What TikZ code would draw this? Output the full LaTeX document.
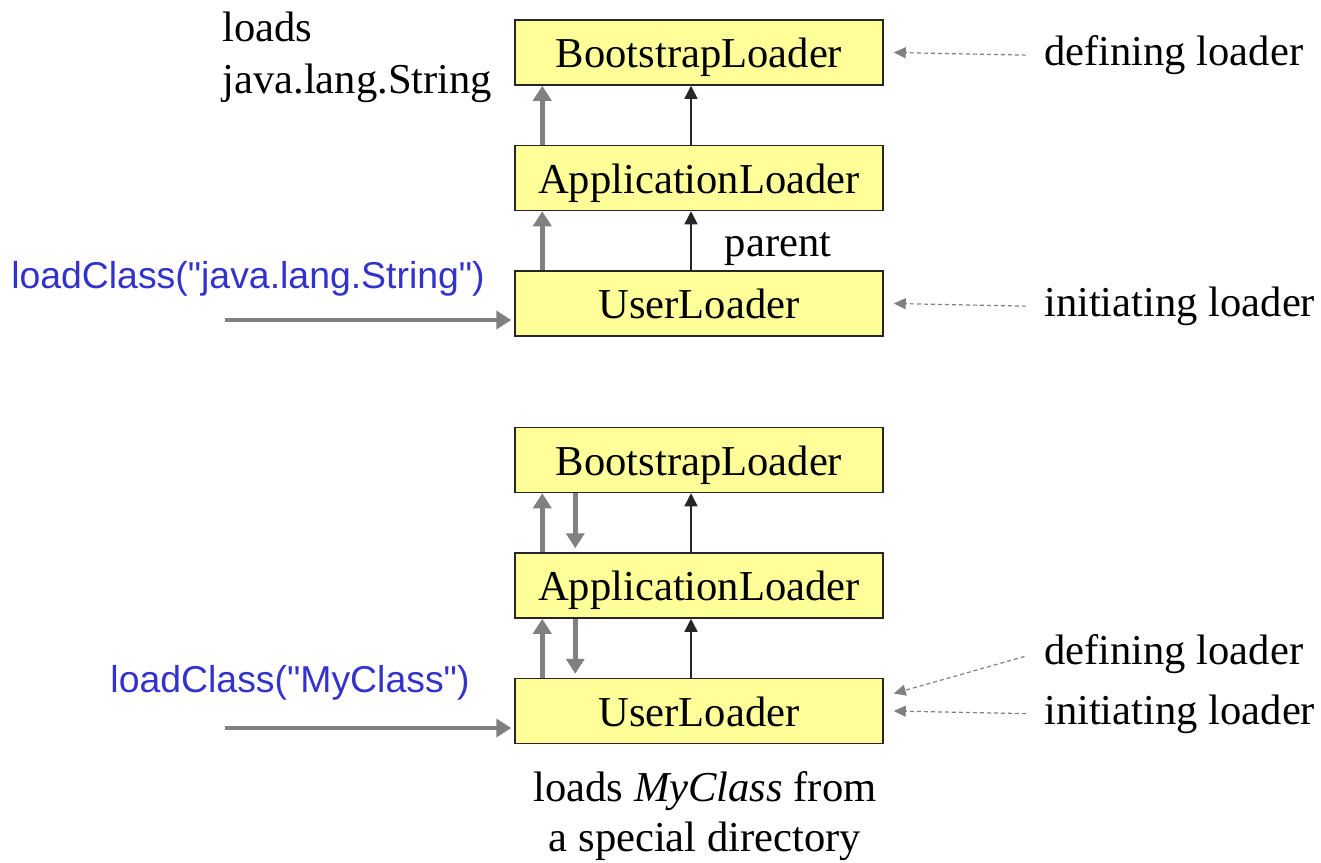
\documentclass[tikz,border=0pt]{standalone}
\usepackage{fontspec}
\setmainfont{Liberation Serif}
\setsansfont{Liberation Sans}[Ligatures=TeXOff]
\usetikzlibrary{arrows.meta,positioning}
\definecolor{boxyellow}{RGB}{255,255,153}
\definecolor{callgray}{RGB}{128,128,128}
\definecolor{callblue}{RGB}{51,51,204}

\begin{document}
\begin{tikzpicture}[x=0.5pt,y=-0.5pt,node distance=29.5pt,
    loader/.style={rectangle,draw=black!85,line width=0.75pt,fill=boxyellow,
      minimum width=184pt,minimum height=32.5pt,inner sep=0pt,
      text height=16pt,text depth=1pt,
      font=\fontsize{21.3pt}{26pt}\selectfont},
    note/.style={inner sep=0pt,font=\fontsize{21.3pt}{26pt}\selectfont},
    method/.style={inner sep=0pt,text=callblue,font=\sffamily\fontsize{18.7pt}{22pt}\selectfont},
    call/.style={callgray,line width=2.3pt,-{Triangle[length=7.5pt,width=9pt]}},
    parent/.style={black!85,line width=0.7pt,-{Triangle[length=6.5pt,width=6.5pt]}},
    hint/.style={callgray,line width=0.6pt,dash pattern=on 2pt off 1.5pt,
      -{Triangle[length=6pt,width=5.5pt]}}]
  \useasboundingbox (0,0) rectangle (1321,862);

  \node[loader] (boot1) at (699,52.5) {BootstrapLoader};
  \node[loader,below=of boot1] (app1) {ApplicationLoader};
  \node[loader,below=of app1] (user1) {UserLoader};
  \node[loader] (boot2) at (699,460) {BootstrapLoader};
  \node[loader,below=of boot2] (app2) {ApplicationLoader};
  \node[loader,below=of app2] (user2) {UserLoader};

  \node[note,right=80pt of boot1,yshift=-1.5pt] (def1) {defining loader};
  \node[note,right=80pt of user1,yshift=-1.5pt] (init1) {initiating loader};
  \node[note,right=80pt of user2,yshift=-1.5pt] (init2) {initiating loader};
  \node[note,anchor=west] (def2) at ([yshift=30pt]init2.west) {defining loader};

  \node[note,align=left,anchor=west] (loads) at (222,57) {loads\\java.lang.String};
  \node[note] (parentlab) at (778,249) {parent};
  \node[note,align=center,font=\fontsize{21.3pt}{25pt}\selectfont] (special) at (705,816)
    {loads \textit{MyClass} from\\a special directory};
  \node[method] (call1) at (248,279) {loadClass("java.lang.String")};
  \node[method] (call2) at (290,683) {loadClass("MyClass")};

  \coordinate (in1) at (225,320);
  \coordinate (in2) at (225,728);

  \draw[call,shorten >=1.5pt] (in1) -- (in1 -| user1.west);
  \draw[call,shorten >=1.5pt] (in2) -- (in2 -| user2.west);

  \draw[call] ([xshift=14pt]user1.north west) -- ([xshift=14pt]app1.south west);
  \draw[call] ([xshift=14pt]app1.north west) -- ([xshift=14pt]boot1.south west);
  \draw[call] ([xshift=14pt]user2.north west) -- ([xshift=14pt]app2.south west);
  \draw[call] ([xshift=14pt]app2.north west) -- ([xshift=14pt]boot2.south west);
  \draw[call,shorten >=2pt] ([xshift=30.5pt]boot2.south west) -- ([xshift=30.5pt]app2.north west);
  \draw[call,shorten >=2pt] ([xshift=30.5pt]app2.south west) -- ([xshift=30.5pt]user2.north west);

  \draw[parent] ([xshift=-4pt]user1.north) -- ([xshift=-4pt]app1.south);
  \draw[parent] ([xshift=-4pt]app1.north) -- ([xshift=-4pt]boot1.south);
  \draw[parent] ([xshift=-4pt]user2.north) -- ([xshift=-4pt]app2.south);
  \draw[parent] ([xshift=-4pt]app2.north) -- ([xshift=-4pt]boot2.south);

  \draw[hint,shorten <=9pt] (def1.west) -- ([xshift=5pt]boot1.east);
  \draw[hint,shorten <=9pt] (init1.west) -- ([xshift=5pt]user1.east);
  \draw[hint,shorten <=9pt] (init2.west) -- ([xshift=5pt]user2.east);
  \draw[hint,shorten <=10pt] ([yshift=1.5pt]def2.west) -- ([xshift=5pt,yshift=8.75pt]user2.east);
\end{tikzpicture}
\end{document}
